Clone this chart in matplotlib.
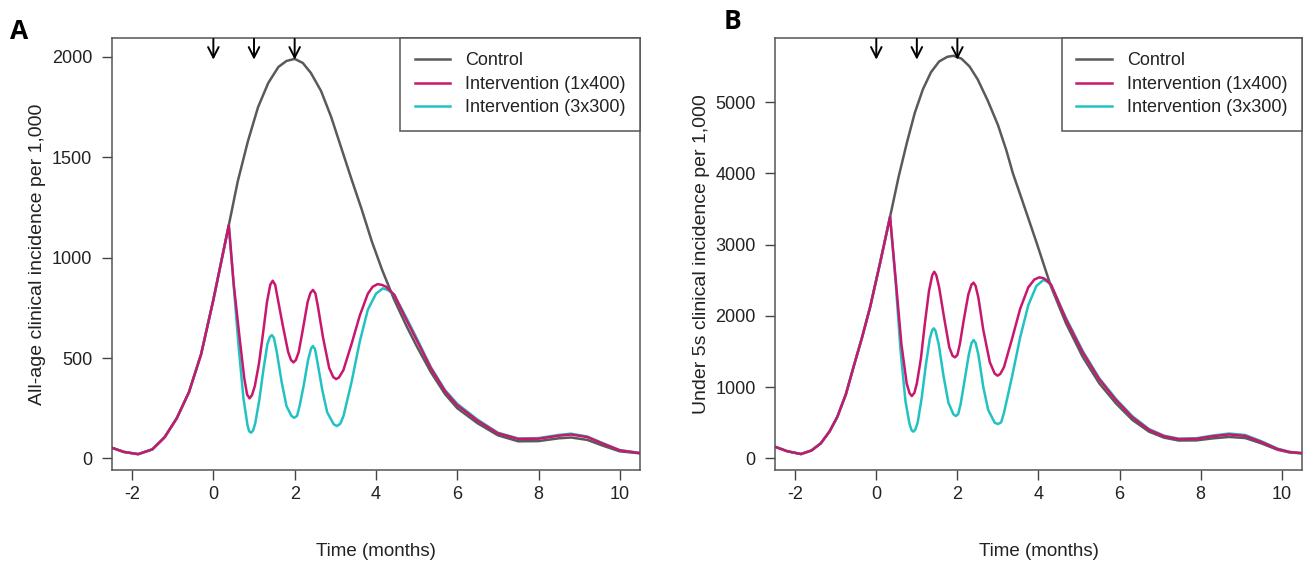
import matplotlib
matplotlib.use("Agg")
import matplotlib.pyplot as plt
import matplotlib.transforms as mtransforms

plt.rcParams['font.family'] = ['Liberation Sans', 'DejaVu Sans']
plt.rcParams['axes.unicode_minus'] = False

# doses (months) marked with arrows
doses = [0, 1, 2]
labels = ['Control', 'Intervention (1x400)', 'Intervention (3x300)']
cores = ['#5a5a5a', '#c8186e', '#22c2c2']

# ---- painel A: all ages ----
a_ctrl_x = [-2.5, -2.2, -1.85, -1.5, -1.2, -0.9, -0.6, -0.3, 0.0, 0.38, 0.6, 0.85, 1.1, 1.35,
            1.6, 1.8, 2.0, 2.2, 2.4, 2.65, 2.9, 3.15, 3.4, 3.65, 3.9, 4.15, 4.45, 4.75, 5.0,
            5.35, 5.7, 6.0, 6.5, 7.0, 7.5, 8.0, 8.5, 8.8, 9.2, 9.6, 10.0, 10.5]
a_ctrl_y = [53, 32, 21, 45, 105, 200, 330, 520, 790, 1162, 1380, 1580, 1750, 1870,
            1950, 1980, 1990, 1970, 1920, 1830, 1700, 1545, 1390, 1240, 1080, 940, 790, 660, 560,
            430, 320, 250, 175, 115, 85, 86, 100, 104, 92, 62, 35, 25]

# interventions follow control until ~0.38 months
a_pre_x = [-2.5, -2.2, -1.85, -1.5, -1.2, -0.9, -0.6, -0.3, 0.0]
a_pre_y = [53, 32, 21, 45, 105, 200, 330, 520, 790]

a_1x400_x = [0.38, 0.5, 0.64, 0.76, 0.83, 0.89, 0.95, 1.02, 1.12, 1.22, 1.32, 1.4, 1.46, 1.52,
             1.58, 1.71, 1.84, 1.91, 1.97, 2.03, 2.1, 2.2, 2.32, 2.39, 2.45, 2.51, 2.57, 2.7,
             2.85, 2.95, 3.02, 3.09, 3.2, 3.4, 3.6, 3.8, 3.92, 4.04, 4.15, 4.25, 4.45,
             4.75, 5.0, 5.35, 5.7, 6.0, 6.5, 7.0, 7.5, 8.0, 8.5, 8.8, 9.2, 9.6, 10.0, 10.5]
a_1x400_y = [1162, 870, 610, 400, 318, 299, 315, 360, 470, 620, 780, 865, 885, 865,
             800, 660, 530, 490, 478, 490, 530, 640, 780, 825, 839, 822, 760, 600,
             450, 405, 395, 403, 440, 570, 710, 820, 855, 868, 864, 855, 815,
             690, 590, 450, 335, 265, 188, 125, 97, 98, 113, 119, 106, 72, 40, 26]

a_3x300_x = [0.38, 0.5, 0.62, 0.74, 0.84, 0.88, 0.93, 0.98, 1.03, 1.13, 1.23, 1.33, 1.39, 1.44,
             1.49, 1.56, 1.68, 1.8, 1.92, 1.99, 2.06, 2.12, 2.22, 2.33, 2.4, 2.445, 2.5, 2.56,
             2.68, 2.8, 2.96, 3.04, 3.12, 3.2, 3.4, 3.6, 3.8, 4.0, 4.17, 4.3, 4.45,
             4.75, 5.0, 5.35, 5.7, 6.0, 6.5, 7.0, 7.5, 8.0, 8.5, 8.8, 9.2, 9.6, 10.0, 10.5]
a_3x300_y = [1162, 860, 560, 300, 165, 135, 128, 140, 175, 290, 440, 570, 605, 614,
             600, 530, 380, 260, 212, 202, 212, 260, 360, 490, 545, 560, 545, 480,
             340, 230, 170, 161, 172, 210, 380, 580, 740, 820, 847, 838, 815,
             700, 600, 455, 340, 272, 193, 128, 99, 101, 117, 123, 109, 74, 41, 27]

# ---- painel B: under 5s ----
b_ctrl_x = [-2.5, -2.2, -1.86, -1.6, -1.37, -1.15, -0.96, -0.75, -0.56, -0.35, -0.15, 0.1, 0.34,
            0.55, 0.75, 0.95, 1.15, 1.35, 1.55, 1.75, 1.9, 2.1, 2.3, 2.5, 2.75, 3.0, 3.21, 3.37,
            3.6, 3.96, 4.31, 4.68, 5.09, 5.5, 5.91, 6.32, 6.73, 7.1, 7.46, 7.9, 8.3, 8.7, 9.1,
            9.5, 9.9, 10.2, 10.5]
b_ctrl_y = [163, 100, 60, 110, 210, 380, 584, 900, 1286, 1700, 2128, 2760, 3391,
            3950, 4420, 4850, 5180, 5420, 5570, 5635, 5650, 5610, 5500, 5320, 5020, 4680, 4320, 4000,
            3620, 3017, 2409, 1895, 1426, 1053, 772, 538, 374, 290, 250, 252, 280, 300, 285,
            210, 120, 82, 70]

b_pre_x = [-2.5, -2.2, -1.86, -1.6, -1.37, -1.15, -0.96, -0.75, -0.56, -0.35, -0.15, 0.1]
b_pre_y = [163, 100, 60, 110, 210, 380, 584, 900, 1286, 1700, 2128, 2760]

b_1x400_x = [0.34, 0.48, 0.62, 0.75, 0.82, 0.876, 0.94, 1.0, 1.1, 1.2, 1.3, 1.38, 1.43, 1.48,
             1.55, 1.68, 1.8, 1.88, 1.94, 2.0, 2.06, 2.16, 2.27, 2.35, 2.4, 2.45, 2.52, 2.64,
             2.8, 2.92, 2.99, 3.06, 3.15, 3.35, 3.55, 3.75, 3.9, 4.02, 4.12, 4.2, 4.31,
             4.68, 5.09, 5.5, 5.91, 6.32, 6.73, 7.1, 7.46, 7.9, 8.3, 8.7, 9.1, 9.5, 9.9,
             10.2, 10.5]
b_1x400_y = [3391, 2500, 1600, 1050, 915, 874, 920, 1050, 1400, 1900, 2350, 2570, 2619, 2570,
             2400, 1950, 1560, 1440, 1417, 1450, 1600, 1950, 2300, 2440, 2465, 2420, 2250, 1800,
             1350, 1190, 1160, 1185, 1280, 1680, 2100, 2400, 2510, 2540, 2530, 2500, 2440,
             1950, 1490, 1110, 820, 575, 400, 310, 270, 275, 310, 335, 315, 230, 130,
             88, 72]

b_3x300_x = [0.34, 0.48, 0.6, 0.72, 0.82, 0.87, 0.915, 0.96, 1.02, 1.12, 1.22, 1.32, 1.38, 1.42,
             1.46, 1.54, 1.66, 1.78, 1.9, 1.96, 2.02, 2.08, 2.18, 2.28, 2.35, 2.4, 2.45, 2.52,
             2.64, 2.76, 2.92, 3.0, 3.08, 3.15, 3.35, 3.55, 3.75, 3.95, 4.12, 4.22, 4.31,
             4.68, 5.09, 5.5, 5.91, 6.32, 6.73, 7.1, 7.46, 7.9, 8.3, 8.7, 9.1, 9.5,
             9.9, 10.2, 10.5]
b_3x300_y = [3391, 2450, 1500, 800, 480, 395, 374, 400, 500, 850, 1300, 1680, 1800, 1824,
             1790, 1600, 1150, 780, 620, 594, 620, 760, 1100, 1450, 1620, 1660, 1620, 1450,
             1000, 680, 500, 481, 505, 640, 1150, 1700, 2150, 2420, 2502, 2480, 2430,
             1970, 1510, 1125, 835, 590, 410, 318, 276, 282, 320, 348, 328, 240,
             136, 90, 74]

fig = plt.figure(figsize=(13.04, 5.72), dpi=100)
axA = fig.add_axes([0.0857, 0.1783, 0.4052, 0.7552])
axB = fig.add_axes([0.5943, 0.1783, 0.4041, 0.7552])


def painel(ax, ctrl, um, tres, pre, ylim, yticks, ylabel):
    ax.plot(ctrl[0], ctrl[1], color=cores[0], lw=1.8, label=labels[0])
    ax.plot(pre[0] + tres[0], pre[1] + tres[1], color=cores[2], lw=1.8, label=labels[2])
    ax.plot(pre[0] + um[0], pre[1] + um[1], color=cores[1], lw=1.8, label=labels[1])
    ax.set_xlim(-2.5, 10.5)
    ax.set_ylim(*ylim)
    ax.set_xticks([-2, 0, 2, 4, 6, 8, 10])
    ax.set_yticks(yticks)
    ax.tick_params(direction='out', length=7, width=1, color='#444444',
                   labelsize=13, labelcolor='#222222')
    ax.tick_params(axis='x', pad=4.5)
    ax.tick_params(axis='y', pad=7)
    for s in ax.spines.values():
        s.set_color('#555555')
        s.set_linewidth(1.1)
    ax.set_xlabel('Time (months)', fontsize=13.5, color='#222222', labelpad=29)
    ax.set_ylabel(ylabel, fontsize=14, color='#222222', labelpad=4)
    # setas das doses
    tr = mtransforms.blended_transform_factory(ax.transData, ax.transAxes)
    for d in doses:
        ax.annotate('', xy=(d, 0.950), xytext=(d, 0.998), xycoords=tr, textcoords=tr,
                    arrowprops=dict(arrowstyle='->,head_length=0.75,head_width=0.38',
                                    color='black', lw=1.4, shrinkA=0, shrinkB=0))
    h, l = ax.get_legend_handles_labels()
    ordem = [0, 2, 1]
    leg = ax.legend([h[i] for i in ordem], [l[i] for i in ordem], loc='upper right',
                    borderaxespad=0, fancybox=False, fontsize=13, handlelength=1.95,
                    handletextpad=0.85, labelspacing=0.36, borderpad=0.8, framealpha=1)
    leg.get_frame().set_edgecolor('#555555')
    leg.get_frame().set_linewidth(1.1)
    for t in leg.get_texts():
        t.set_color('#222222')


painel(axA, (a_ctrl_x, a_ctrl_y), (a_1x400_x, a_1x400_y), (a_3x300_x, a_3x300_y),
       (a_pre_x, a_pre_y), (-58, 2094), [0, 500, 1000, 1500, 2000],
       'All-age clinical incidence per 1,000')
painel(axB, (b_ctrl_x, b_ctrl_y), (b_1x400_x, b_1x400_y), (b_3x300_x, b_3x300_y),
       (b_pre_x, b_pre_y), (-164, 5899), [0, 1000, 2000, 3000, 4000, 5000],
       'Under 5s clinical incidence per 1,000')

fig.text(0.0145, 0.945, 'A', fontsize=19, fontweight='bold', family='Open Sans', va='center', ha='center')
fig.text(0.562, 0.962, 'B', fontsize=19, fontweight='bold', family='Open Sans', va='center', ha='center')

fig.savefig('out.png', dpi=100)
